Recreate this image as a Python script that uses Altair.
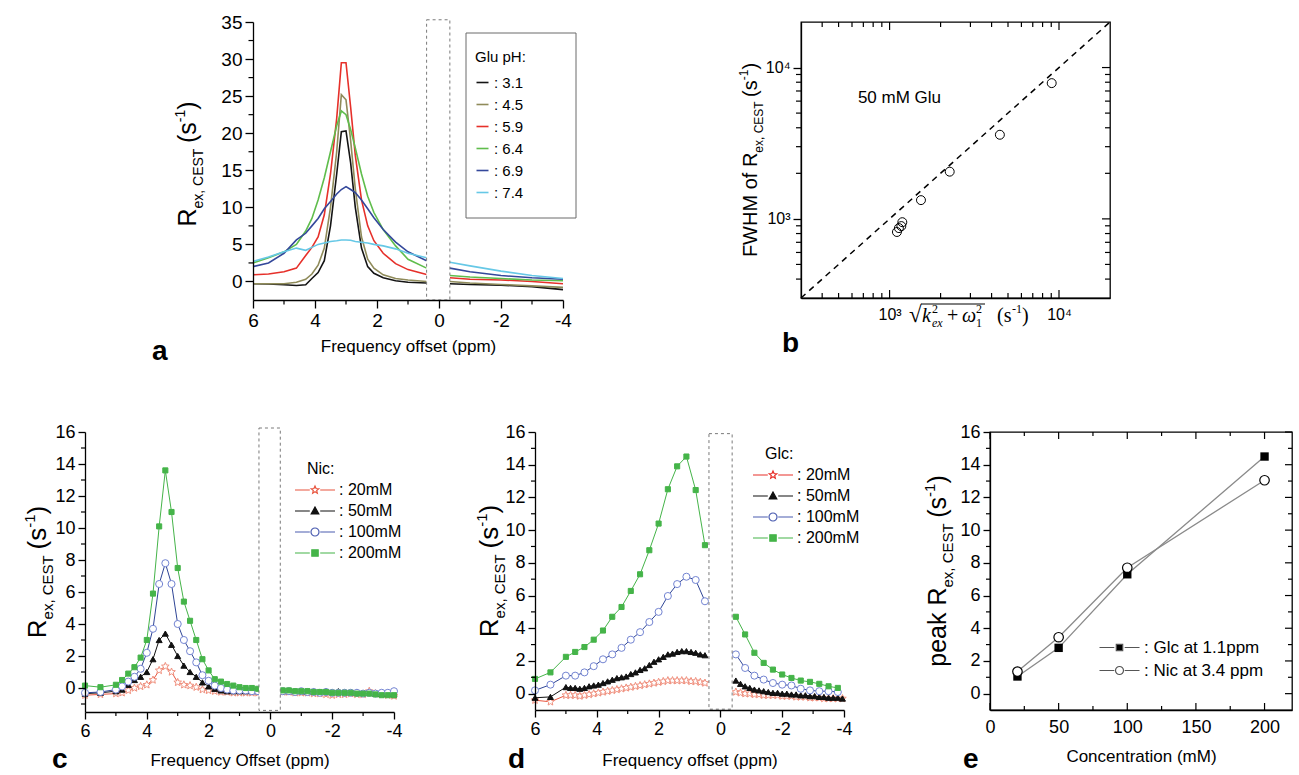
import math
import altair as alt
import pandas as pd

FONT = "Liberation Sans"
SERIF = "Liberation Serif"
ONE = pd.DataFrame({"k": [0]})

# ================= DATA =================
# ---- panel a : Glu pH series ----
a_ph = ["3.1", "4.5", "5.9", "6.4", "6.9", "7.4"]
a_colors = ["#141414", "#8f8b5a", "#e6302a", "#5fbd4c", "#34489b", "#66c8e6"]
a_x_left = [6.0, 5.5, 5.0, 4.6, 4.3, 4.1, 3.9, 3.7, 3.5, 3.3, 3.15, 3.0, 2.85, 2.7, 2.5, 2.3, 2.1, 1.8, 1.4, 1.0, 0.4]
a_x_right = [-0.35, -1.0, -2.0, -3.0, -4.0]
a_31_left = [-0.3, -0.35, -0.45, -0.55, -0.45, 0.4, 1.2, 2.8, 7.5, 14.5, 20.2, 20.3, 16.0, 10.0, 4.5, 2.0, 1.1, 0.5, 0.1, -0.1, -0.2]
a_31_right = [-0.3, -0.4, -0.5, -0.7, -1.1]
a_45_left = [-0.3, -0.3, -0.3, -0.1, 0.3, 1.0, 2.2, 4.5, 10.0, 17.5, 25.2, 24.5, 19.0, 12.5, 6.0, 3.0, 1.8, 0.9, 0.4, 0.2, 0.0]
a_45_right = [0.0, -0.2, -0.4, -0.6, -0.8]
a_59_left = [0.9, 1.0, 1.3, 1.8, 3.5, 4.6, 6.0, 9.0, 14.5, 22.0, 29.5, 29.5, 23.5, 17.0, 11.0, 7.5, 5.5, 3.8, 2.4, 1.6, 0.95]
a_59_right = [0.5, 0.3, 0.2, 0.0, -0.3]
a_64_left = [2.5, 3.2, 4.0, 5.0, 6.8, 8.5, 11.0, 14.0, 17.5, 21.0, 23.0, 22.5, 20.5, 18.0, 14.5, 11.5, 9.3, 7.0, 4.8, 3.0, 1.8]
a_64_right = [0.8, 0.6, 0.4, 0.2, 0.1]
a_69_left = [2.0, 2.5, 3.8, 5.6, 6.5, 7.5, 8.5, 9.8, 10.8, 11.8, 12.4, 12.8, 12.4, 12.0, 11.0, 9.8, 8.6, 7.0, 5.3, 4.0, 2.8]
a_69_right = [1.8, 1.3, 0.8, 0.5, 0.3]
a_74_left = [2.7, 3.3, 4.0, 4.5, 4.2, 4.6, 5.0, 5.2, 5.4, 5.5, 5.6, 5.6, 5.55, 5.4, 5.3, 5.2, 5.0, 4.8, 4.4, 3.8, 3.2]
a_74_right = [2.6, 2.1, 1.4, 0.8, 0.4]
a_gap_x = [0.4, -0.35]
a_gap_y = [-2.5, 35.3]

# ---- panel b ----
b_x = [1105, 1135, 1173, 1189, 1532, 2264, 4477, 9057]
b_y = [819, 869, 896, 951, 1330, 2051, 3596, 7890]
b_fit_x = [300, 20000]
b_fit_y = [300, 20000]
b_note = "50 mM Glu"
b_note_x = [650]
b_note_y = [6300]

# ---- panel c : Nic ----
c_series = ["20mM", "50mM", "100mM", "200mM"]
c_x_left = [6.0, 5.5, 5.0, 4.8, 4.6, 4.4, 4.2, 4.0, 3.8, 3.6, 3.4, 3.2, 3.0, 2.8, 2.6, 2.4, 2.2, 2.0, 1.8, 1.6, 1.4, 1.2, 1.0, 0.8, 0.6, 0.4]
c_x_right = [-0.4, -0.6, -0.8, -1.0, -1.2, -1.4, -1.6, -1.8, -2.0, -2.2, -2.4, -2.6, -2.8, -3.0, -3.2, -3.4, -3.6, -3.8, -4.0]
c_20_left = [-0.45, -0.4, -0.35, -0.3, -0.15, 0.0, 0.1, 0.2, 0.5, 1.1, 1.35, 1.0, 0.35, 0.2, 0.15, 0.05, -0.1, -0.15, -0.2, -0.25, -0.25, -0.3, -0.3, -0.3, -0.3, -0.3]
c_20_right = [-0.25, -0.25, -0.3, -0.3, -0.3, -0.35, -0.35, -0.4, -0.45, -0.4, -0.4, -0.35, -0.4, -0.4, -0.2, -0.35, -0.4, -0.45, -0.5]
c_50_left = [-0.35, -0.3, -0.2, -0.1, 0.2, 0.5, 0.7, 1.0, 1.8, 3.0, 3.4, 2.7, 2.0, 1.4, 1.0, 0.7, 0.35, 0.1, -0.05, -0.15, -0.2, -0.2, -0.2, -0.2, -0.2, -0.2]
c_50_right = [-0.2, -0.2, -0.2, -0.2, -0.25, -0.2, -0.25, -0.2, -0.25, -0.2, -0.25, -0.3, -0.25, -0.3, -0.3, -0.35, -0.35, -0.35, -0.4]
c_100_left = [-0.3, -0.25, -0.1, 0.1, 0.4, 0.7, 1.2, 2.2, 3.7, 6.5, 7.8, 6.5, 4.0, 3.0, 2.3, 1.6, 0.8, 0.45, 0.15, 0.0, -0.1, -0.15, -0.15, -0.15, -0.2, -0.2]
c_100_right = [-0.2, -0.2, -0.25, -0.2, -0.25, -0.25, -0.3, -0.25, -0.3, -0.3, -0.3, -0.3, -0.3, -0.35, -0.3, -0.35, -0.3, -0.3, -0.2]
c_200_left = [0.15, 0.05, 0.2, 0.5, 0.9, 1.3, 1.9, 3.0, 5.9, 10.1, 13.6, 11.0, 7.5, 5.4, 4.2, 3.0, 1.8, 1.1, 0.55, 0.4, 0.25, 0.15, 0.05, 0.0, 0.0, -0.05]
c_200_right = [-0.15, -0.15, -0.2, -0.2, -0.2, -0.25, -0.25, -0.25, -0.3, -0.3, -0.3, -0.3, -0.35, -0.35, -0.35, -0.4, -0.45, -0.45, -0.45]
c_gap_x = [0.37, -0.32]
c_gap_y = [-1.4, 16.25]

# ---- panel d : Glc ----
d_series = ["20mM", "50mM", "100mM", "200mM"]
d_xc_left = [6.0, 5.5, 5.0, 4.7, 4.4, 4.1, 3.8, 3.5, 3.2, 2.9, 2.6, 2.3, 2.0, 1.7, 1.4, 1.1, 0.8, 0.5]
d_xc_right = [-0.5, -0.8, -1.1, -1.4, -1.7, -2.0, -2.3, -2.6, -2.9, -3.2, -3.5, -3.8]
d_xf_left = [6.0, 5.5, 5.0, 4.85, 4.7, 4.55, 4.4, 4.25, 4.1, 3.95, 3.8, 3.65, 3.5, 3.35, 3.2, 3.05, 2.9, 2.75, 2.6, 2.45, 2.3, 2.15, 2.0, 1.85, 1.7, 1.55, 1.4, 1.25, 1.1, 0.95, 0.8, 0.65, 0.5]
d_xf_right = [-0.5, -0.65, -0.8, -0.95, -1.1, -1.25, -1.4, -1.55, -1.7, -1.85, -2.0, -2.15, -2.3, -2.45, -2.6, -2.75, -2.9, -3.05, -3.2, -3.35, -3.5, -3.65, -3.8, -3.95]
d_20_left = [-0.4, -0.5, -0.1, -0.1, -0.1, -0.15, -0.1, -0.05, 0.0, 0.05, 0.1, 0.15, 0.2, 0.25, 0.3, 0.35, 0.4, 0.45, 0.5, 0.55, 0.6, 0.65, 0.7, 0.75, 0.8, 0.8, 0.8, 0.8, 0.8, 0.75, 0.75, 0.7, 0.65]
d_20_right = [0.1, 0.05, 0.0, 0.0, -0.05, -0.05, -0.1, -0.1, -0.1, -0.1, -0.15, -0.15, -0.15, -0.2, -0.2, -0.2, -0.25, -0.25, -0.25, -0.3, -0.3, -0.3, -0.3, -0.3]
d_50_left = [-0.25, -0.2, 0.4, 0.35, 0.35, 0.3, 0.35, 0.45, 0.5, 0.55, 0.65, 0.75, 0.85, 0.95, 1.0, 1.05, 1.2, 1.3, 1.45, 1.55, 1.75, 1.95, 2.1, 2.25, 2.4, 2.45, 2.55, 2.6, 2.6, 2.55, 2.5, 2.4, 2.35]
d_50_right = [0.8, 0.6, 0.45, 0.35, 0.25, 0.2, 0.15, 0.1, 0.05, 0.05, 0.0, 0.0, -0.05, -0.05, -0.1, -0.1, -0.15, -0.15, -0.2, -0.2, -0.25, -0.25, -0.25, -0.3]
d_100_left = [0.2, 0.55, 1.1, 1.1, 1.3, 1.68, 2.1, 2.4, 2.8, 3.3, 3.76, 4.38, 5.0, 5.97, 6.7, 7.15, 6.95, 5.65]
d_100_right = [2.4, 1.57, 1.1, 0.86, 0.65, 0.55, 0.5, 0.3, 0.2, 0.15, 0.15, 0.1]
d_200_left = [0.9, 1.3, 2.25, 2.55, 2.85, 3.3, 3.86, 4.7, 5.3, 6.28, 7.3, 8.77, 10.4, 12.5, 13.9, 14.5, 12.45, 9.08]
d_200_right = [4.7, 3.62, 2.5, 1.88, 1.47, 1.17, 0.96, 0.8, 0.72, 0.6, 0.45, 0.35]
d_gap_x = [0.37, -0.38]
d_gap_y = [-0.95, 15.9]

# ---- panel e ----
e_conc = [20, 50, 100, 200]
e_glc = [1.05, 2.8, 7.3, 14.5]
e_nic = [1.35, 3.45, 7.7, 13.05]
e_series = ["Glc at 1.1ppm", "Nic at 3.4 ppm"]

# ---- tick values ----
ppm_major = [6, 4, 2, 0, -2, -4]
ppm_minor = [5, 3, 1, -1, -3]
a_y_major = [0, 5, 10, 15, 20, 25, 30, 35]
a_y_minor = [2.5, 7.5, 12.5, 17.5, 22.5, 27.5, 32.5]
b_major = [1000, 10000]
b_minor = [400, 500, 600, 700, 800, 900, 2000, 3000, 4000, 5000, 6000, 7000, 8000, 9000]
r_major = [0, 2, 4, 6, 8, 10, 12, 14, 16]
c_y_minor = [-1, 1, 3, 5, 7, 9, 11, 13, 15]
d_y_minor = [1, 3, 5, 7, 9, 11, 13, 15]
e_x_major = [0, 50, 100, 150, 200]
e_x_minor = [25, 75, 125, 175]

# ================= HELPERS =================
W = {' ': 278, '(': 333, ')': 333, ',': 278, '-': 333, '.': 278, ':': 278,
     'A': 667, 'C': 722, 'E': 667, 'F': 611, 'G': 778, 'H': 722, 'M': 833, 'N': 722, 'O': 778,
     'R': 722, 'S': 667, 'T': 611, 'W': 944,
     'a': 556, 'c': 500, 'e': 556, 'f': 278, 'g': 556, 'i': 222, 'k': 500, 'l': 222, 'm': 833,
     'n': 556, 'o': 556, 'p': 556, 'q': 556, 'r': 333, 's': 500, 't': 278, 'u': 556, 'x': 500, 'y': 500}


def tw(s, size):
    return sum(W.get(ch, 556) for ch in s) * size / 1000.0


def txt(x, y, s, size, angle=0, font=FONT, style="normal", weight="normal", align="left",
        baseline="alphabetic"):
    kw = dict(text=s, fontSize=size, font=font, fontStyle=style, fontWeight=weight,
              align=align, baseline=baseline, color="black")
    if angle:
        kw["angle"] = angle
    return alt.Chart(ONE).mark_text(**kw).encode(x=alt.value(x), y=alt.value(y))


def rich(pieces, cx, cy, vertical=False):
    widths = []
    for t, s, sh, o in pieces:
        widths.append(o.get("w", tw(t, s)) if o.get("adv", True) else 0)
    total = sum(widths)
    pos = -total / 2.0
    layers, starts = [], []
    for (t, s, sh, o), w in zip(pieces, widths):
        starts.append(pos)
        if t.strip():
            dx = o.get("dx", 0)
            if vertical:
                layers.append(txt(cx + sh, cy - pos - dx, t, s, angle=270, font=o.get("font", FONT),
                                  style=o.get("style", "normal")))
            else:
                layers.append(txt(cx + pos + dx, cy + sh, t, s, font=o.get("font", FONT),
                                  style=o.get("style", "normal")))
        pos += w
    starts.append(pos)
    return layers, starts


def rex_title(prefix, big, small, cx, cy, sub_shift, sup_shift):
    pieces = []
    if prefix:
        pieces += [(prefix, big, 0, {}), ("", big, 0, {"w": tw(" ", big)})]
    pieces += [("R", big, 0, {}), ("ex, CEST", small, sub_shift, {}),
               ("", big, 0, {"w": tw(" ", big) * 0.8}),
               ("(s", big, 0, {}), ("-1", small, sup_shift, {}), (")", big, 0, {})]
    return rich(pieces, cx, cy, vertical=True)[0]


class Panel:
    def __init__(self, xs, ys, ax, ay):
        self.xs, self.ys, self.ax, self.ay = xs, ys, ax, ay

    def X(self, f):
        return alt.X(f, scale=self.xs, axis=self.ax)

    def Y(self, f):
        return alt.Y(f, scale=self.ys, axis=self.ay)

    def xrules(self, vals, y0, y1, sw=1.2):
        return alt.Chart(pd.DataFrame({"v": vals})).mark_rule(color="black", strokeWidth=sw).encode(
            x=self.X("v:Q"), y=alt.value(y0), y2=alt.value(y1))

    def yrules(self, vals, x0, x1, sw=1.2):
        return alt.Chart(pd.DataFrame({"v": vals})).mark_rule(color="black", strokeWidth=sw).encode(
            y=self.Y("v:Q"), x=alt.value(x0), x2=alt.value(x1))

    def gap(self, gx, gy):
        df = pd.DataFrame({"x1": [gx[0]], "x2": [gx[1]], "y1": [gy[0]], "y2": [gy[1]]})
        return alt.Chart(df).mark_rect(fill="white", stroke="#7a7a7a", strokeWidth=1,
                                       strokeDash=[3, 3]).encode(
            x=self.X("x1:Q"), x2="x2:Q", y=self.Y("y1:Q"), y2="y2:Q")

    def series(self, xl, yl, xr, yr, line_color, shape, size, fill, stroke, sw=1.0):
        df = pd.DataFrame({"x": list(xl) + list(xr), "y": list(yl) + list(yr),
                           "seg": ["L"] * len(xl) + ["R"] * len(xr)})
        line = alt.Chart(df).mark_line(color=line_color, strokeWidth=sw).encode(
            x=self.X("x:Q"), y=self.Y("y:Q"), detail="seg:N")
        pts = alt.Chart(df).mark_point(shape=shape, size=size, filled=True, fill=fill, stroke=stroke,
                                       strokeWidth=1, opacity=1).encode(x=self.X("x:Q"), y=self.Y("y:Q"))
        return [line, pts]


def star_path(ro=1.0, ri=0.45):
    pts = []
    for k in range(10):
        ang = math.radians(-90 + 36 * k)
        r = ro if k % 2 == 0 else ri
        pts.append(f"{r * math.cos(ang):.3f},{r * math.sin(ang):.3f}")
    return "M" + "L".join(pts) + "Z"


STAR = star_path()
TRI = "M0,-1L0.95,0.75L-0.95,0.75Z"
SQR = "M-0.8,-0.8L0.8,-0.8L0.8,0.8L-0.8,0.8Z"
CIR = "M1,0A1,1 0 1,1 -1,0A1,1 0 1,1 1,0Z"


def with_lines(p, L=5.0, g=1.3):
    return f"M{-L},0L{-g},0M{g},0L{L},0" + p


def legend_layer(field, domain, paths, strokes, fills, title, lx, ly, fsize):
    leg_kw = dict(orient="none", legendX=lx, legendY=ly,
                  labelExpr="': ' + datum.label",
                  symbolSize=64, symbolStrokeWidth=1.2, labelFontSize=fsize, labelFont=FONT,
                  labelColor="black", labelOffset=16, rowPadding=5, padding=0, symbolOpacity=1)
    if title:
        leg_kw.update(title=title, titleFontSize=fsize, titleFont=FONT, titleFontWeight="normal",
                      titleColor="black", titlePadding=5)
    else:
        leg_kw.update(title=None)
    leg = alt.Legend(**leg_kw)
    f = field + ":N"
    return alt.Chart(pd.DataFrame({field: domain})).transform_filter("false").mark_point().encode(
        shape=alt.Shape(f, scale=alt.Scale(domain=domain, range=paths), legend=leg),
        stroke=alt.Stroke(f, scale=alt.Scale(domain=domain, range=strokes), legend=leg),
        fill=alt.Fill(f, scale=alt.Scale(domain=domain, range=fills), legend=leg))


def anchor(x0, x1, y0, y1):
    return alt.Chart(ONE).mark_rule(color="white", strokeWidth=1).encode(
        x=alt.value(x0), x2=alt.value(x1), y=alt.value(y0), y2=alt.value(y1))


AX_COMMON = dict(labelFont=FONT, labelColor="black", domainColor="black", tickColor="black",
                 domainWidth=1.3, tickWidth=1.3, grid=False, zindex=1, labelOverlap=False)

# ================= PANEL A =================
WA, HA = 310, 278
PA = Panel(alt.Scale(domain=[6, -4], nice=False, zero=False),
           alt.Scale(domain=[-2.5, 35], nice=False, zero=False),
           alt.Axis(values=ppm_major, labelExpr="'' + datum.value", tickSize=8, labelFontSize=19,
                    labelPadding=3, labelFlush=False, title="Frequency offset (ppm)", titleFontSize=17,
                    titleFont=FONT, titleFontWeight="normal", titleColor="black", titlePadding=8,
                    **AX_COMMON),
           alt.Axis(values=a_y_major, tickSize=8, labelFontSize=19, labelPadding=3, title=None,
                    **AX_COMMON))

rows = []
a_left = [a_31_left, a_45_left, a_59_left, a_64_left, a_69_left, a_74_left]
a_right = [a_31_right, a_45_right, a_59_right, a_64_right, a_69_right, a_74_right]
for ph, yl, yr in zip(a_ph, a_left, a_right):
    for x, y in zip(a_x_left, yl):
        rows.append({"x": x, "y": y, "ph": ph, "seg": "L"})
    for x, y in zip(a_x_right, yr):
        rows.append({"x": x, "y": y, "ph": ph, "seg": "R"})
df_a = pd.DataFrame(rows)

a_lines = alt.Chart(df_a).mark_line(strokeWidth=1.6).encode(
    x=PA.X("x:Q"), y=PA.Y("y:Q"),
    color=alt.Color("ph:N", scale=alt.Scale(domain=a_ph, range=a_colors),
                    legend=alt.Legend(title="Glu pH:", orient="none", legendX=222, legendY=28,
                                      symbolType="stroke", symbolSize=144, symbolStrokeWidth=1.6,
                                      labelExpr="': ' + datum.label", labelFontSize=15,
                                      titleFontSize=15, titleFontWeight="normal", titleFont=FONT,
                                      labelFont=FONT, labelColor="black", titleColor="black",
                                      rowPadding=6, titlePadding=10, padding=0, labelOffset=4)),
    detail="seg:N")

a_box = alt.Chart(ONE).mark_rect(fill="white", stroke="#6b6b6b", strokeWidth=1).encode(
    x=alt.value(213), x2=alt.value(323), y=alt.value(11), y2=alt.value(196))

A = alt.layer(
    a_box,
    a_lines,
    PA.gap(a_gap_x, a_gap_y),
    PA.xrules(ppm_minor, HA, HA + 4.5),
    PA.yrules(a_y_minor, 0, -4.5),
    *rex_title("", 25, 14, -57, 142, 7, -11),
    txt(-101, 338, "a", 28, weight="bold"),
    anchor(0, 1, -21.5, -21.5),
).properties(width=WA, height=HA)

# ================= PANEL B =================
WB, HB = 309, 276
lab_b = "datum.value == 1000 ? '10\u00b3' : '10\u2074'"
PB = Panel(alt.Scale(type="log", domain=[300, 20000], nice=False),
           alt.Scale(type="log", domain=[300, 20000], nice=False),
           alt.Axis(values=b_major, labelExpr=lab_b, ticks=False, labelPadding=8, labelFontSize=16,
                    labelFlush=False, title=None, **AX_COMMON),
           alt.Axis(values=b_major, labelExpr=lab_b, tickSize=8, labelPadding=3, labelFontSize=16,
                    title=None, **AX_COMMON))

b_pts = alt.Chart(pd.DataFrame({"x": b_x, "y": b_y})).mark_point(
    shape="circle", size=80, filled=False, color="black", strokeWidth=1, opacity=1).encode(
    x=PB.X("x:Q"), y=PB.Y("y:Q"))
b_fit = alt.Chart(pd.DataFrame({"x": b_fit_x, "y": b_fit_y})).mark_line(
    color="black", strokeWidth=1.5, strokeDash=[6, 5]).encode(x=PB.X("x:Q"), y=PB.Y("y:Q"))
b_txt = alt.Chart(pd.DataFrame({"x": b_note_x, "y": b_note_y, "t": [b_note]})).mark_text(
    align="left", baseline="middle", fontSize=17, font=FONT, color="black").encode(
    x=PB.X("x:Q"), y=PB.Y("y:Q"), text="t:N")

bx_pieces = [
    ("\u221a", 23, 0, {"font": SERIF, "w": 13}),
    ("k", 20, 0, {"font": SERIF, "style": "italic", "w": 10}),
    ("2", 12, -9, {"font": SERIF, "adv": False}),
    ("ex", 12, 5, {"font": SERIF, "style": "italic", "w": 12}),
    ("+", 20, 0, {"font": SERIF, "w": 18, "dx": 3}),
    ("\u03c9", 20, 0, {"font": SERIF, "style": "italic", "w": 14}),
    ("2", 12, -9, {"font": SERIF, "adv": False}),
    ("1", 12, 5, {"font": SERIF, "w": 8}),
    ("", 20, 0, {"w": 13}),
    ("(s", 20, 0, {"font": SERIF, "w": 15}),
    ("-1", 12, -9, {"font": SERIF, "w": 10}),
    (")", 20, 0, {"font": SERIF, "w": 7}),
]
BX_CX, BX_CY = 168, 300
bx_layers, bx_starts = rich(bx_pieces, BX_CX, BX_CY, vertical=False)
b_bar = alt.Chart(ONE).mark_rule(color="black", strokeWidth=1).encode(
    x=alt.value(BX_CX + bx_starts[1] - 1), x2=alt.value(BX_CX + bx_starts[8] + 1),
    y=alt.value(BX_CY - 18), y2=alt.value(BX_CY - 18))

B = alt.layer(
    b_fit, b_pts, b_txt,
    PB.xrules(b_major, HB, HB - 8), PB.xrules(b_minor, HB, HB - 5),
    PB.xrules(b_major, 0, 8), PB.xrules(b_minor, 0, 5),
    PB.yrules(b_minor, 0, -5),
    PB.yrules(b_major, WB, WB - 8), PB.yrules(b_minor, WB, WB - 5),
    *bx_layers, b_bar,
    *rex_title("FWHM of", 20, 12, -44, 138, 6, -9),
    txt(-19, 330, "b", 28, weight="bold"),
).properties(width=WB, height=HB, view=alt.ViewBackground(stroke="black", strokeWidth=1.3))

# ================= PANEL C =================
WC, HC = 309, 280
PC = Panel(alt.Scale(domain=[6, -4], nice=False, zero=False),
           alt.Scale(domain=[-1.5, 16], nice=False, zero=False),
           alt.Axis(values=ppm_major, labelExpr="'' + datum.value", tickSize=7, labelFontSize=18,
                    labelPadding=3, labelFlush=False, title="Frequency Offset (ppm)", titleFontSize=17,
                    titleFont=FONT, titleFontWeight="normal", titleColor="black", titlePadding=12,
                    **AX_COMMON),
           alt.Axis(values=r_major, tickSize=7, labelFontSize=18, labelPadding=3, title=None,
                    **AX_COMMON))

C = alt.layer(
    *PC.series(c_x_left, c_20_left, c_x_right, c_20_right, "#e8553f", STAR, 64, "white", "#f0907e"),
    *PC.series(c_x_left, c_50_left, c_x_right, c_50_right, "#111111", "triangle-up", 36, "#111111", "#111111"),
    *PC.series(c_x_left, c_100_left, c_x_right, c_100_right, "#2f4596", "circle", 50, "white", "#7384d2"),
    *PC.series(c_x_left, c_200_left, c_x_right, c_200_right, "#45b449", "square", 26, "#45b449", "#45b449"),
    PC.gap(c_gap_x, c_gap_y),
    PC.xrules(ppm_minor, HC, HC + 4),
    PC.yrules(c_y_minor, 0, -4),
    legend_layer("lg_c", c_series, [with_lines(STAR), with_lines(TRI), with_lines(CIR), with_lines(SQR)],
                 ["#e8553f", "#111111", "#4a5cb0", "#45b449"], ["white", "#111111", "white", "#45b449"],
                 "Nic:", 222, 29, 16),
    *rex_title("", 26, 15, -39, 140, 7, -11),
    txt(-33, 336, "c", 28, weight="bold"),
    anchor(-84.5, -84.5, 0, 1),
    anchor(0, 1, 342.5, 342.5),
).properties(width=WC, height=HC)

# ================= PANEL D =================
WD, HD = 309, 278
PD = Panel(alt.Scale(domain=[6, -4], nice=False, zero=False),
           alt.Scale(domain=[-1, 16], nice=False, zero=False),
           alt.Axis(values=ppm_major, labelExpr="'' + datum.value", tickSize=7, labelFontSize=18,
                    labelPadding=3, labelFlush=False, title="Frequency offset (ppm)", titleFontSize=17,
                    titleFont=FONT, titleFontWeight="normal", titleColor="black", titlePadding=14,
                    **AX_COMMON),
           alt.Axis(values=r_major, tickSize=7, labelFontSize=18, labelPadding=3, title=None,
                    **AX_COMMON))

D = alt.layer(
    *PD.series(d_xf_left, d_20_left, d_xf_right, d_20_right, "#e8553f", STAR, 64, "white", "#f0907e"),
    *PD.series(d_xf_left, d_50_left, d_xf_right, d_50_right, "#111111", "triangle-up", 36, "#111111", "#111111"),
    *PD.series(d_xc_left, d_100_left, d_xc_right, d_100_right, "#2f4596", "circle", 50, "white", "#7384d2"),
    *PD.series(d_xc_left, d_200_left, d_xc_right, d_200_right, "#45b449", "square", 26, "#45b449", "#45b449"),
    PD.gap(d_gap_x, d_gap_y),
    PD.xrules(ppm_minor, HD, HD + 4),
    PD.yrules(d_y_minor, 0, -4),
    legend_layer("lg_d", d_series, [with_lines(STAR), with_lines(TRI), with_lines(CIR), with_lines(SQR)],
                 ["#e8302a", "#111111", "#4a5cb0", "#45b449"], ["white", "#111111", "white", "#45b449"],
                 "Glc:", 230, 14, 16),
    *rex_title("", 26, 15, -37, 139, 7, -11),
    txt(-27, 336, "d", 28, weight="bold"),
).properties(width=WD, height=HD)

# ================= PANEL E =================
WE, HE = 302, 278
PE = Panel(alt.Scale(domain=[0, 220], nice=False, zero=False),
           alt.Scale(domain=[-1, 16], nice=False, zero=False),
           alt.Axis(values=e_x_major, ticks=False, labelFontSize=18, labelPadding=8, labelFlush=False,
                    title="Concentration (mM)", titleFontSize=17, titleFont=FONT,
                    titleFontWeight="normal", titleColor="black", titlePadding=12, **AX_COMMON),
           alt.Axis(values=r_major, tickSize=7, labelFontSize=18, labelPadding=3, title=None,
                    **AX_COMMON))

df_glc = pd.DataFrame({"x": e_conc, "y": e_glc})
df_nic = pd.DataFrame({"x": e_conc, "y": e_nic})
E = alt.layer(
    alt.Chart(df_glc).mark_line(color="#8a8a8a", strokeWidth=1.3).encode(x=PE.X("x:Q"), y=PE.Y("y:Q")),
    alt.Chart(df_nic).mark_line(color="#8a8a8a", strokeWidth=1.3).encode(x=PE.X("x:Q"), y=PE.Y("y:Q")),
    alt.Chart(df_glc).mark_point(shape="square", size=70, filled=True, color="black", opacity=1).encode(
        x=PE.X("x:Q"), y=PE.Y("y:Q")),
    alt.Chart(df_nic).mark_point(shape="circle", size=90, filled=True, fill="white", stroke="black",
                                 strokeWidth=1.2, opacity=1).encode(x=PE.X("x:Q"), y=PE.Y("y:Q")),
    PE.xrules(e_x_major, HE, HE - 7), PE.xrules(e_x_minor, HE, HE - 4),
    PE.xrules(e_x_major, 0, 7), PE.xrules(e_x_minor, 0, 4),
    PE.yrules(d_y_minor, 0, -4),
    PE.yrules(r_major, WE, WE - 7), PE.yrules(d_y_minor, WE, WE - 4),
    legend_layer("lg_e", e_series, [with_lines(SQR), with_lines(CIR)], ["#555555", "#555555"],
                 ["#000000", "white"], None, 121, 207, 17),
    *rex_title("peak", 25, 15, -44, 139, 7, -11),
    txt(-27, 336, "e", 28, weight="bold"),
).properties(width=WE, height=HE, view=alt.ViewBackground(stroke="black", strokeWidth=1.3))

# ================= LAYOUT =================
IND = dict(color="independent", shape="independent", stroke="independent", fill="independent")
spacer = alt.Chart(ONE).mark_point(opacity=0).properties(width=168, height=HA)
top = alt.hconcat(spacer, alt.hconcat(A, B, spacing=238, bounds="flush").resolve_scale(**IND),
                  spacing=0, bounds="flush").resolve_scale(**IND)
bottom = alt.hconcat(C, alt.hconcat(D, E, spacing=146, bounds="flush").resolve_scale(**IND),
                     spacing=141, bounds="flush").resolve_scale(**IND)
chart = alt.vconcat(top, bottom, spacing=HA + 132, bounds="flush").resolve_scale(**IND).properties(
    padding=0, background="white"
).configure_view(stroke=None)

chart.save("out.html", embed_options={"renderer": "svg", "actions": False})
